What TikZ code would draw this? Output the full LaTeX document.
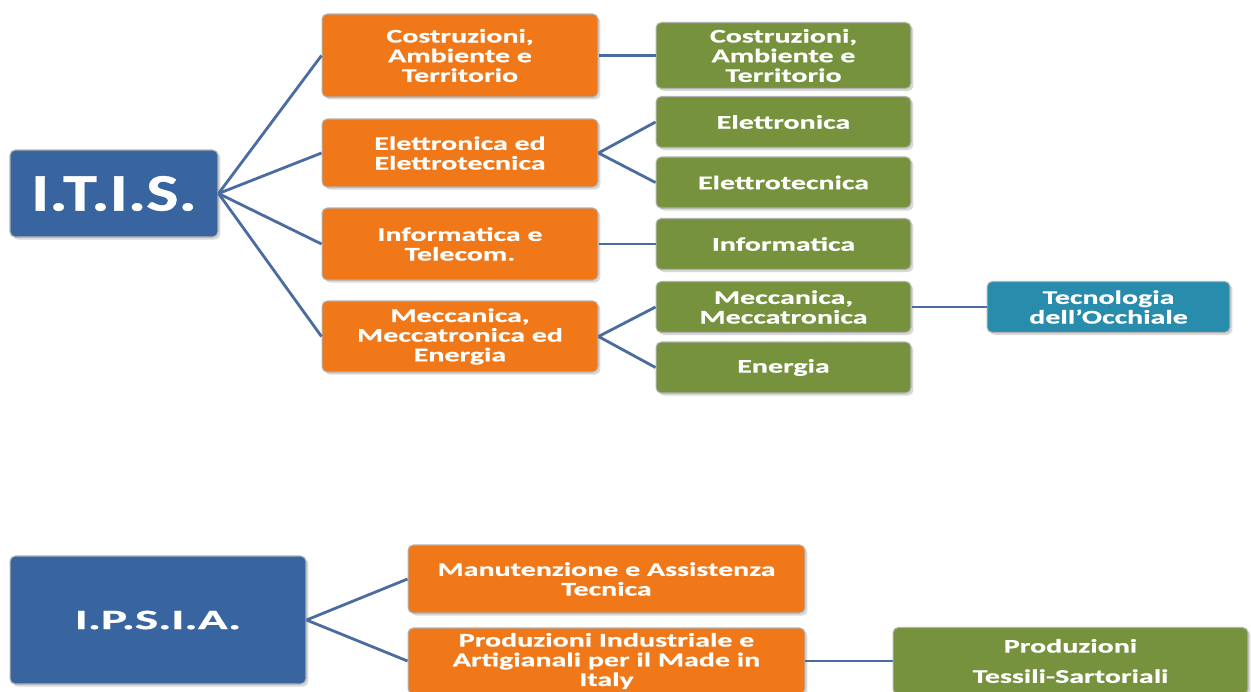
\documentclass[tikz,border=0pt]{standalone}
\usepackage{fontspec}
\usetikzlibrary{shadows}
\newfontfamily\boxfont[FakeStretch=1.55,FakeBold=0.7]{Carlito Bold}
\newfontfamily\itisfont[FakeStretch=1.3,FakeBold=0.7]{Carlito Bold}
\newfontfamily\ipsiafont[FakeStretch=1.75,FakeBold=0.7]{Carlito Bold}
\definecolor{schoolblue}{RGB}{56,101,160}
\definecolor{corsoorange}{RGB}{240,120,24}
\definecolor{artgreen}{RGB}{118,146,60}
\definecolor{optteal}{RGB}{40,140,172}
\definecolor{linkblue}{RGB}{74,108,160}

\begin{document}
\begin{tikzpicture}[x=.02cm,y=-.02cm,
  box/.style={rounded corners=3pt, draw=black!30, line width=.6pt, text=white, align=center, inner sep=0pt,
    font=\boxfont\fontsize{11}{11.2}\selectfont,
    drop shadow={opacity=.3, shadow xshift=.5mm, shadow yshift=-.5mm}},
  school/.style={box, fill=schoolblue},
  corso/.style={box, fill=corsoorange, minimum width=5.52cm},
  art/.style={box, fill=artgreen, minimum width=5.1cm, minimum height=1.02cm},
  opt/.style={box, fill=optteal, minimum width=4.86cm, minimum height=1.02cm},
  link/.style={linkblue, line width=1.6pt}]
  \useasboundingbox (0,0) rectangle (1251,691);
  % I.T.I.S.
  \node[school, minimum width=4.16cm, minimum height=1.74cm, font=\itisfont\fontsize{30}{32}\selectfont] (itis) at (114,193.5) {I.T.I.S.};
  \node[corso, minimum height=1.66cm] (ocat) at (460,55.5) {Costruzioni,\\Ambiente e\\Territorio};
  \node[corso, minimum height=1.36cm] (oele) at (460,153) {Elettronica ed\\Elettrotecnica};
  \node[corso, minimum height=1.44cm] (oinf) at (460,244) {Informatica e\\Telecom.};
  \node[corso, minimum height=1.42cm] (omec) at (460,336.5) {Meccanica,\\Meccatronica ed\\Energia};
  \node[art, minimum height=1.32cm] (gcat) at (783.5,55.5) {Costruzioni,\\Ambiente e\\Territorio};
  \node[art] (gele) at (783.5,122) {Elettronica};
  \node[art] (gelt) at (783.5,182.5) {Elettrotecnica};
  \node[art] (ginf) at (783.5,244) {Informatica};
  \node[art] (gmec) at (783.5,307) {Meccanica,\\Meccatronica};
  \node[art] (gene) at (783.5,367.5) {Energia};
  \node[opt] (tocc) at (1108.5,307) {Tecnologia\\dell’Occhiale};
  \foreach \o in {ocat,oele,oinf,omec} \draw[link] (itis.east) -- (\o.west);
  \draw[link] (ocat.east) -- (gcat.west);
  \draw[link] (oele.east) -- (gele.west) (oele.east) -- (gelt.west);
  \draw[link] (oinf.east) -- (ginf.west);
  \draw[link] (omec.east) -- (gmec.west) (omec.east) -- (gene.west);
  \draw[link] (gmec.east) -- (tocc.west);
  % I.P.S.I.A.
  \node[school, minimum width=5.92cm, minimum height=2.56cm, font=\ipsiafont\fontsize{16}{18}\selectfont] (ipsia) at (158,620) {I.P.S.I.A.};
  \node[corso, minimum width=7.94cm, minimum height=1.36cm] (oman) at (606.5,579) {Manutenzione e Assistenza\\Tecnica};
  \node[corso, minimum width=7.94cm, minimum height=1.32cm] (opro) at (606.5,661) {Produzioni Industriale e\\Artigianali per il Made in\\Italy};
  \node[art, minimum width=7.1cm, minimum height=1.34cm] (gtes) at (1070.5,661) {Produzioni\\[6pt]Tessili-Sartoriali};
  \draw[link] (ipsia.east) -- (oman.west) (ipsia.east) -- (opro.west);
  \draw[link] (opro.east) -- (gtes.west);
\end{tikzpicture}
\end{document}
